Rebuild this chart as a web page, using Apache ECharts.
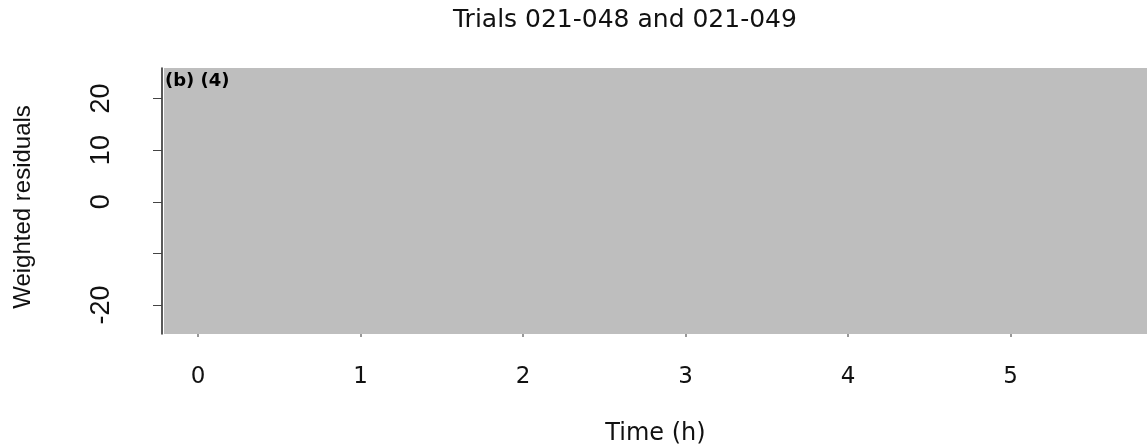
<!DOCTYPE html>
<html>
<head>
<meta charset="utf-8">
<script src="https://cdn.jsdelivr.net/npm/echarts@6/dist/echarts.min.js"></script>
<style>
html,body{margin:0;padding:0;background:#fff;}
#chart{width:1147px;height:446px;}
</style>
</head>
<body>
<div id="chart"></div>
<script>
// ---- chart data ----
var chartTitle = 'Trials 021-048 and 021-049';
var panelLabel = '(b) (4)';
var xAxisTitle = 'Time (h)';
var yAxisTitle = 'Weighted residuals';
var xTicks = [0, 1, 2, 3, 4, 5];
var yTicks = [-20, -10, 0, 10, 20];
var yTickLabels = [-20, 0, 10, 20];
var xRange = [-0.21, 5.84];
var yRange = [-25.6, 25.9];
var residualPoints = []; // no visible points in the panel

var chart = echarts.init(document.getElementById('chart'), null, {renderer: 'canvas'});
chart.setOption({
  animation: false,
  backgroundColor: '#ffffff',
  title: [
    {
      text: chartTitle,
      left: 448, top: 3,
      textStyle: {fontFamily: 'DejaVu Sans', fontSize: 25, fontWeight: 'normal', color: '#111'}
    },
    {
      text: panelLabel,
      left: 160, top: 67,
      textStyle: {fontFamily: 'DejaVu Sans', fontSize: 18, fontWeight: 'bold', color: '#000'}
    }
  ],
  grid: {
    left: 164, right: 0, top: 68, bottom: 112,
    containLabel: false,
    outerBoundsMode: 'none',
    show: true, backgroundColor: '#bebebe', borderWidth: 0
  },
  xAxis: {
    type: 'value',
    min: xRange[0], max: xRange[1],
    name: xAxisTitle,
    nameLocation: 'middle',
    nameGap: 88,
    nameTextStyle: {fontFamily: 'DejaVu Sans', fontSize: 24, color: '#111'},
    axisLine: {show: false, onZero: false},
    axisTick: {show: true, length: 3, customValues: xTicks, lineStyle: {color: '#777', width: 1.5}},
    axisLabel: {
      customValues: xTicks, margin: 32,
      fontFamily: 'DejaVu Sans', fontSize: 23, color: '#111'
    },
    splitLine: {show: false}
  },
  yAxis: {
    type: 'value',
    min: yRange[0], max: yRange[1],
    offset: 2,
    name: yAxisTitle,
    nameLocation: 'middle',
    nameRotate: 90,
    nameGap: 127,
    nameTextStyle: {fontFamily: 'Liberation Sans', fontSize: 24, color: '#111', padding: [0, 12, 0, 0]},
    axisLine: {show: true, onZero: false, lineStyle: {color: '#222', width: 1.5}},
    axisTick: {show: true, length: 9, customValues: yTicks, lineStyle: {color: '#444', width: 1}},
    axisLabel: {
      customValues: yTickLabels, rotate: 90, margin: 47,
      fontFamily: 'Liberation Sans', fontSize: 27, color: '#111'
    },
    splitLine: {show: false}
  },
  series: [{
    type: 'scatter',
    data: residualPoints,
    symbolSize: 4,
    itemStyle: {color: '#000'}
  }]
});
</script>
</body>
</html>
